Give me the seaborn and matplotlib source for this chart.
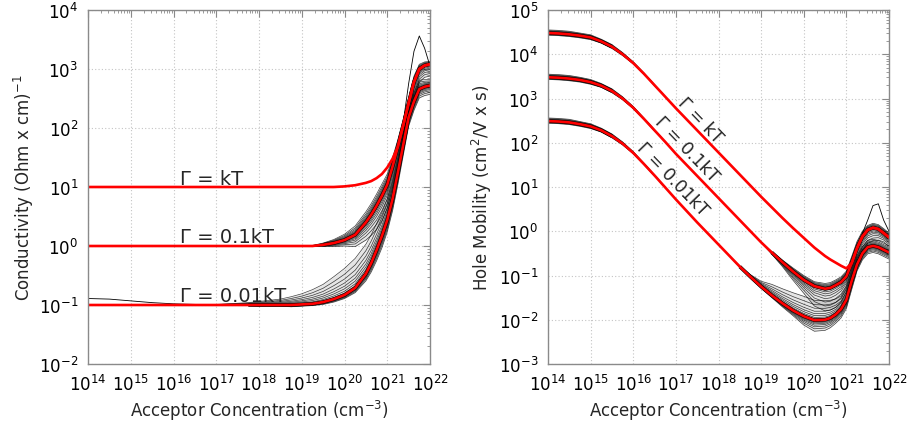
import numpy as np
import matplotlib
matplotlib.use("Agg")
import matplotlib.pyplot as plt
import seaborn as sns
from matplotlib.ticker import LogLocator, NullFormatter

# log10 of acceptor concentration (cm^-3) at which curves are sampled
log_conc = [14.0, 14.25, 14.5, 14.75, 15.0, 15.25, 15.5, 15.75, 16.0, 16.25, 16.5, 16.75,
            17.0, 17.25, 17.5, 17.75, 18.0, 18.25, 18.5, 18.75, 19.0, 19.25, 19.5, 19.75,
            20.0, 20.25, 20.5, 20.625, 20.75, 20.875, 21.0, 21.125, 21.25, 21.375, 21.5,
            21.625, 21.75, 21.875, 22.0]

# log10 conductivity (Ohm cm)^-1 for three broadenings
sigma_kT = [1.00, 1.00, 1.00, 1.00, 1.00, 1.00, 1.00, 1.00, 1.00, 1.00, 1.00, 1.00,
            1.00, 1.00, 1.00, 1.00, 1.00, 1.00, 1.00, 1.00, 1.00, 1.00, 1.00, 1.00,
            1.01, 1.03, 1.07, 1.10, 1.15, 1.22, 1.33, 1.48, 1.69, 2.05, 2.42,
            2.78, 3.00, 3.06, 3.08]
sigma_01kT = [0.00, 0.00, 0.00, 0.00, 0.00, 0.00, 0.00, 0.00, 0.00, 0.00, 0.00, 0.00,
              0.00, 0.00, 0.00, 0.00, 0.00, 0.00, 0.00, 0.00, 0.00, 0.00, 0.02, 0.05,
              0.10, 0.19, 0.40, 0.53, 0.68, 0.85, 1.04, 1.35, 1.69, 2.05, 2.42,
              2.78, 3.00, 3.06, 3.08]
sigma_001kT = [-1.00, -1.00, -1.00, -1.00, -1.00, -1.00, -1.00, -1.00, -1.00, -1.00, -1.00, -1.00,
               -1.00, -1.00, -1.00, -1.00, -1.00, -1.00, -1.00, -1.00, -0.99, -0.98, -0.95, -0.90,
               -0.83, -0.71, -0.47, -0.29, -0.07, 0.17, 0.44, 0.80, 1.25, 1.72, 2.18,
               2.45, 2.66, 2.70, 2.72]

# log10 hole mobility (cm^2/V s)
mu_kT = [4.48, 4.47, 4.45, 4.42, 4.38, 4.29, 4.17, 4.00, 3.80, 3.56, 3.30, 3.04,
         2.78, 2.53, 2.28, 2.03, 1.78, 1.53, 1.28, 1.03, 0.78, 0.54, 0.30, 0.07,
         -0.15, -0.37, -0.56, -0.64, -0.71, -0.78, -0.84, -0.72, -0.38, -0.12, 0.03,
         0.08, 0.05, -0.04, -0.14]
mu_01kT = [3.48, 3.47, 3.45, 3.42, 3.37, 3.29, 3.17, 3.00, 2.79, 2.54, 2.28, 2.02,
           1.75, 1.50, 1.25, 1.00, 0.75, 0.50, 0.25, 0.00, -0.25, -0.48, -0.70, -0.91,
           -1.10, -1.24, -1.30, -1.28, -1.22, -1.15, -1.02, -0.72, -0.38, -0.12, 0.03,
           0.08, 0.05, -0.04, -0.14]
mu_001kT = [2.49, 2.48, 2.46, 2.42, 2.37, 2.28, 2.15, 1.98, 1.77, 1.52, 1.26, 0.99,
            0.72, 0.46, 0.20, -0.05, -0.30, -0.55, -0.80, -1.03, -1.25, -1.45, -1.63, -1.79,
            -1.92, -2.01, -2.00, -1.96, -1.88, -1.76, -1.55, -1.12, -0.75, -0.50, -0.36,
            -0.33, -0.36, -0.42, -0.48]

# spread of the sampled ensemble above / below each mean curve (decades)
sigma_01kT_up = [0, 0, 0, 0, 0, 0, 0, 0, 0, 0, 0, 0, 0, 0, 0, 0, 0, 0, 0, 0, 0,
                 .01, .03, .06, .10, .15, .18, .19, .20, .20, .18, .15, .12, .10, .10, .10, .08, .06, .05]
sigma_01kT_dn = [0, 0, 0, 0, 0, 0, 0, 0, 0, 0, 0, 0, 0, 0, 0, 0, 0, 0, 0, 0, 0,
                 .01, .03, .06, .10, .20, .30, .35, .40, .42, .40, .35, .30, .25, .25, .25, .22, .20, .20]
sigma_001kT_up = [0, 0, 0, 0, 0, 0, 0, 0, 0, 0, 0, 0,
                  .01, .02, .03, .04, .06, .08, .10, .14, .18, .24, .30, .38, .45, .50, .50,
                  .48, .45, .40, .35, .30, .25, .20, .15, .15, .15, .12, .10]
sigma_001kT_dn = [0, 0, 0, 0, 0, 0, 0, 0, 0, 0, 0, 0, 0, 0,
                  .01, .01, .02, .02, .02, .03, .03, .03, .04, .05, .06, .08, .12,
                  .15, .18, .20, .20, .20, .20, .18, .15, .15, .15, .15, .15]

mu_kT_up = [.07, .07, .07, .06, .06, .05, .05, .04, .03, .02, .01,
            0, 0, 0, 0, 0, 0, 0, 0, 0, 0, 0, 0, 0, 0, 0, 0, 0, 0, 0, 0, 0, 0, 0, 0, 0, 0, 0, 0]
mu_kT_dn = [.05, .05, .05, .05, .05, .04, .04, .03, .02, .015, .01,
            0, 0, 0, 0, 0, 0, 0, 0, 0, 0, 0, 0, 0, 0, 0, 0, 0, 0, 0, 0, 0, 0, 0, 0, 0, 0, 0, 0]
mu_01kT_up = [.07, .07, .07, .06, .06, .05, .05, .04, .03, .02, .01,
              0, 0, 0, 0, 0, 0, 0, 0, 0, 0,
              .02, .05, .08, .10, .10, .12, .12, .12, .12, .12, .15, .15, .12, .10, .10, .10, .10, .10]
mu_01kT_dn = [.05, .05, .05, .05, .05, .04, .04, .03, .02, .015, .01,
              0, 0, 0, 0, 0, 0, 0, 0, 0, 0,
              .04, .10, .20, .30, .45, .50, .50, .50, .45, .35, .30, .30, .30, .30, .30, .25, .20, .20]
mu_001kT_up = [.07, .07, .07, .06, .06, .05, .05, .04, .03, .02, .01,
               0, 0, 0, 0, 0, 0, 0,
               .02, .05, .12, .25, .33, .40, .45, .45, .43, .40, .35, .30, .30, .25, .20, .15, .15, .15, .15, .15, .15]
mu_001kT_dn = [.05, .05, .05, .05, .05, .04, .04, .03, .02, .015, .01,
               0, 0, 0, 0, 0, 0, 0,
               .01, .03, .04, .05, .08, .12, .20, .25, .24, .22, .20, .20, .20, .20, .15, .15, .15, .15, .15, .15, .15]

# individual ensemble members that stray from the bundle
sigma_stray_low_x = [14.0, 14.5, 15.0, 15.5, 16.0, 16.5, 17.0]
sigma_stray_low_y = [-0.89, -0.90, -0.93, -0.96, -0.98, -0.99, -1.00]
sigma_stray_peak_x = [21.375, 21.5, 21.625, 21.75, 21.875, 22.0]
sigma_stray_peak_y = [2.10, 2.75, 3.30, 3.56, 3.35, 3.05]
mu_stray_peak_x = [21.375, 21.5, 21.625, 21.75, 21.875, 22.0]
mu_stray_peak_y = [-0.05, 0.25, 0.58, 0.62, 0.25, 0.00]

labels = ["\u0393 = kT", "\u0393 = 0.1kT", "\u0393 = 0.01kT"]

sns.set_theme(style="white")
plt.rcParams["font.family"] = ["DejaVu Sans"]
plt.rcParams["mathtext.fontset"] = "dejavusans"

W, H = 909, 427
fig = plt.figure(figsize=(W / 100, H / 100), dpi=100)
ax1 = fig.add_axes([88 / W, 62 / H, 342 / W, 354 / H])
ax2 = fig.add_axes([548 / W, 62 / H, 341 / W, 354 / H])

xc = 10.0 ** np.array(log_conc)


def draw_bundle(ax, mean, up, dn):
    mean = np.array(mean)
    up = np.array(up, dtype=float)
    dn = np.array(dn, dtype=float)
    spread = up + dn
    has = spread > 0
    ext = has.copy()
    ext[:-1] |= has[1:]
    ext[1:] |= has[:-1]
    lo = np.where(ext, mean - dn, np.nan)
    hi = np.where(ext, mean + up, np.nan)
    ax.fill_between(xc, 10 ** lo, 10 ** hi, color="black", alpha=0.10, lw=0)
    for f in (1.0, 0.78, 0.6, 0.45, 0.33, 0.23, 0.14, 0.07):
        ax.plot(xc, 10 ** np.where(ext, mean + f * up, np.nan), color="black", lw=0.5, alpha=0.75)
        ax.plot(xc, 10 ** np.where(ext, mean - f * dn, np.nan), color="black", lw=0.5, alpha=0.75)
    dense = spread >= 0.08
    dense_ext = dense.copy()
    dense_ext[:-1] |= dense[1:]
    ax.plot(xc, 10 ** np.where(dense_ext, mean, np.nan), color="black", lw=2.6, solid_capstyle="butt")


def draw_mean(ax, mean):
    sns.lineplot(x=xc, y=10 ** np.array(mean), ax=ax, color="red", lw=1.9, sort=False)


# conductivity panel
draw_bundle(ax1, sigma_01kT, sigma_01kT_up, sigma_01kT_dn)
draw_bundle(ax1, sigma_001kT, sigma_001kT_up, sigma_001kT_dn)
ax1.plot(10.0 ** np.array(sigma_stray_low_x), 10.0 ** np.array(sigma_stray_low_y), color="black", lw=0.6)
ax1.plot(10.0 ** np.array(sigma_stray_peak_x), 10.0 ** np.array(sigma_stray_peak_y), color="black", lw=0.6)
for m in (sigma_kT, sigma_01kT, sigma_001kT):
    draw_mean(ax1, m)

# mobility panel
draw_bundle(ax2, mu_kT, mu_kT_up, mu_kT_dn)
draw_bundle(ax2, mu_01kT, mu_01kT_up, mu_01kT_dn)
draw_bundle(ax2, mu_001kT, mu_001kT_up, mu_001kT_dn)
ax2.plot(10.0 ** np.array(mu_stray_peak_x), 10.0 ** np.array(mu_stray_peak_y), color="black", lw=0.6)
for m in (mu_kT, mu_01kT, mu_001kT):
    draw_mean(ax2, m)


def style(ax, ylo, yhi, ylabel, ylabel_x):
    ax.set_xscale("log")
    ax.set_yscale("log")
    ax.set_xlim(1e14, 1e22)
    ax.set_ylim(10.0 ** ylo, 10.0 ** yhi)
    for axis in (ax.xaxis, ax.yaxis):
        axis.set_major_locator(LogLocator(base=10, numticks=30))
        axis.set_minor_locator(LogLocator(base=10, subs=np.arange(2, 10), numticks=30))
        axis.set_minor_formatter(NullFormatter())
    ax.grid(True, which="major", color="#c4c4c4", linestyle=(0, (1, 2)), linewidth=0.8)
    ax.tick_params(which="both", direction="in", top=True, right=True,
                   color="#8a8a8a", labelsize=12, labelcolor="black")
    ax.tick_params(which="major", length=5, width=0.8)
    ax.tick_params(which="minor", length=2.5, width=0.6)
    ax.tick_params(axis="x", pad=7)
    ax.tick_params(axis="y", pad=7)
    for s in ax.spines.values():
        s.set_color("#8a8a8a")
        s.set_linewidth(1.0)
    ax.set_xlabel("Acceptor Concentration (cm$^{-3}$)", fontsize=12)
    ax.xaxis.set_label_coords(0.5, -0.097)
    ax.set_ylabel(ylabel, fontsize=12)
    ax.yaxis.set_label_coords(ylabel_x, 0.5)


style(ax1, -2, 4, "Conductivity (Ohm x cm)$^{-1}$", -0.152)
style(ax2, -3, 5, "Hole Mobility (cm$^2$/V x s)", -0.158)

# curve labels
for lab, yv in zip(labels, (1.05, 0.063, -0.927)):
    ax1.text(10 ** 16.15, 10 ** yv, lab, fontsize=14, ha="left", va="baseline")
for lab, (xv, yv) in zip(labels, ((17.57, 2.51), (17.26, 1.86), (16.93, 1.18))):
    ax2.text(10 ** xv, 10 ** yv, lab, fontsize=12.5, ha="center", va="center",
             rotation=-46, rotation_mode="anchor")

fig.savefig("out.png", dpi=100)
